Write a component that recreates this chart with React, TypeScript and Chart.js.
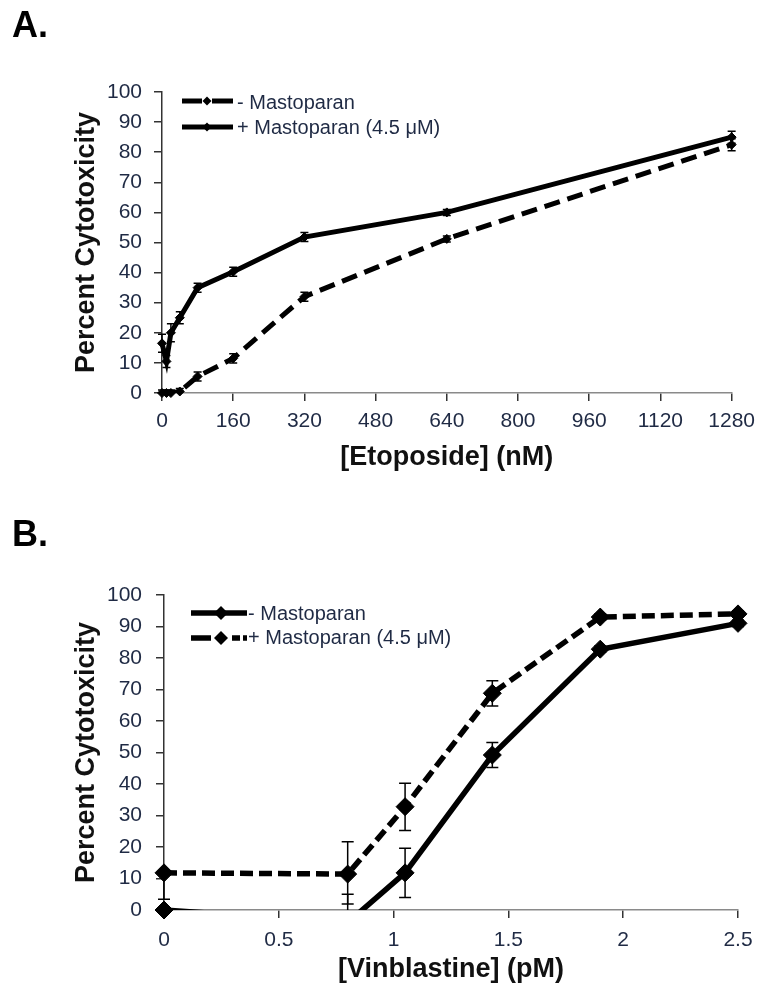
import React, { useEffect, useRef } from 'react';
import { Chart, registerables } from 'chart.js';

Chart.register(...registerables);

// ---------- data ----------
const seriesLabels = ['- Mastoparan', '+ Mastoparan (4.5 μM)'];
const yAxisTitle = 'Percent Cytotoxicity';
const cytotoxicityTicks = [0, 10, 20, 30, 40, 50, 60, 70, 80, 90, 100];

// Panel A: etoposide
const etoposideTitle = '[Etoposide] (nM)';
const etoposideTicks = [0, 160, 320, 480, 640, 800, 960, 1120, 1280];
const etoposideDoses = [0, 10, 20, 40, 80, 160, 320, 640, 1280];
const etoMinusMasto = [0, 0, 0, 0.5, 5.5, 11.5, 32, 51.2, 82.5];
const etoMinusMastoErr = [1, 1, 1, 1, 1.5, 1.5, 1.5, 1, 2];
const etoPlusMasto = [16.5, 10.5, 20, 25, 35, 40.3, 51.8, 60, 85];
const etoPlusMastoErr = [3, 2, 3, 2, 1.5, 1.5, 1.5, 1, 2];

// Panel B: vinblastine
const vinblastineTitle = '[Vinblastine] (pM)';
const vinblastineTicks = [0, 0.5, 1, 1.5, 2, 2.5];
const vinblastineDoses = [0, 0.8, 1.05, 1.43, 1.9, 2.5];
const vinMinusMasto = [0, -4, 11.8, 49.2, 82.8, 91];
const vinMinusMastoErrPlus = [0, 9, 7.8, 4, 1, 1];
const vinMinusMastoErrMinus = [0, 9, 7.8, 4, 1, 1];
const vinPlusMasto = [11.8, 11.4, 32.8, 68.8, 93, 94];
const vinPlusMastoErrPlus = [0, 10.3, 7.4, 4, 1, 1];
const vinPlusMastoErrMinus = [8.4, 9.5, 7.6, 4, 1, 1];

// ---------- styles ----------
const FONT = "'Liberation Sans', Arial, Helvetica, sans-serif";
const TICK_COLOR = '#1f2a44';
const TITLE_COLOR = '#111';

type SeriesDef = {
  xs: number[];
  ys: number[];
  plus: number[];
  minus: number[];
  dash: number[];
  lineWidth: number;
  radius: number;
};

function diamond(ctx: CanvasRenderingContext2D, x: number, y: number, r: number) {
  ctx.beginPath();
  ctx.moveTo(x - r, y);
  ctx.lineTo(x, y - r);
  ctx.lineTo(x + r, y);
  ctx.lineTo(x, y + r);
  ctx.closePath();
  ctx.fill();
}

function makeErrorBarPlugin(series: SeriesDef[], cap: number) {
  return {
    id: 'errorBars',
    afterDatasetsDraw(chart: any) {
      const { ctx, chartArea, scales } = chart;
      const x = scales.x;
      const y = scales.y;
      ctx.save();
      ctx.beginPath();
      ctx.rect(chartArea.left - 20, chartArea.top - 20, chartArea.right - chartArea.left + 40, chartArea.bottom - chartArea.top + 20);
      ctx.clip();
      ctx.strokeStyle = '#000';
      ctx.lineWidth = 1.5;
      for (const s of series) {
        s.xs.forEach((xv, i) => {
          const px = x.getPixelForValue(xv);
          const pt = y.getPixelForValue(s.ys[i] + s.plus[i]);
          const pb = y.getPixelForValue(s.ys[i] - s.minus[i]);
          if (!(s.plus[i] > 0 || s.minus[i] > 0)) return;
          ctx.beginPath();
          ctx.moveTo(px, pt);
          ctx.lineTo(px, pb);
          if (s.plus[i] > 0) {
            ctx.moveTo(px - cap, pt);
            ctx.lineTo(px + cap, pt);
          }
          if (s.minus[i] > 0) {
            ctx.moveTo(px - cap, pb);
            ctx.lineTo(px + cap, pb);
          }
          ctx.stroke();
        });
      }
      ctx.restore();
    },
  };
}

type LegendItem = { label: string; dash: number[]; y: number; textY: number };
type LegendGeom = { x0: number; x1: number; markerX: number; textX: number; lw: number; r: number; size: number };

function makeLegendPlugin(items: LegendItem[], g: LegendGeom) {
  return {
    id: 'customLegend',
    afterDraw(chart: any) {
      const ctx: CanvasRenderingContext2D = chart.ctx;
      ctx.save();
      for (const it of items) {
        ctx.strokeStyle = '#000';
        ctx.lineWidth = g.lw;
        ctx.lineCap = 'butt';
        ctx.setLineDash(it.dash);
        ctx.beginPath();
        ctx.moveTo(g.x0, it.y);
        ctx.lineTo(g.x1, it.y);
        ctx.stroke();
        ctx.setLineDash([]);
        ctx.fillStyle = '#000';
        diamond(ctx, g.markerX, it.y, g.r);
        ctx.fillStyle = TICK_COLOR;
        ctx.font = `${g.size}px ${FONT}`;
        ctx.textAlign = 'left';
        ctx.textBaseline = 'middle';
        ctx.fillText(it.label, g.textX, it.textY);
      }
      ctx.restore();
    },
  };
}

function seriesDatasets(s: SeriesDef) {
  const data = s.xs.map((x, i) => ({ x, y: s.ys[i] }));
  const line = {
    data,
    borderColor: '#000',
    borderWidth: s.lineWidth,
    borderDash: s.dash,
    borderCapStyle: 'butt',
    pointRadius: 0,
    pointHoverRadius: 0,
    fill: false,
    tension: 0,
    clip: { left: 30, top: 30, right: 30, bottom: 0 },
  };
  const points = {
    data,
    showLine: false,
    pointStyle: 'rectRot',
    pointRadius: (c: any) => (c.raw && c.raw.y < 0 ? 0 : s.radius),
    pointHoverRadius: (c: any) => (c.raw && c.raw.y < 0 ? 0 : s.radius),
    pointBackgroundColor: '#000',
    pointBorderColor: '#000',
    pointBorderWidth: 1,
    clip: false,
  };
  return { line, points };
}

type PanelDef = {
  series: SeriesDef[];
  xTicks: number[];
  xMin: number;
  xMax: number;
  xTitle: string;
  padding: { left: number; right: number; top: number; bottom: number };
  yAxisWidth: number;
  xAxisHeight: number;
  xTickPad: number;
  yTickPad: number;
  cap: number;
  legendItems: LegendItem[];
  legendGeom: LegendGeom;
};

function panelConfig(p: PanelDef): any {
  const ds = p.series.map(seriesDatasets);
  const datasets = [...ds.map((d) => d.points), ...ds.map((d) => d.line)];
  const gridCommon = {
    display: true,
    drawOnChartArea: false,
    drawTicks: true,
    tickLength: 8,
    lineWidth: 1.5,
    tickWidth: 1.5,
    tickColor: '#333',
    color: '#333',
  };
  return {
    type: 'line',
    data: { datasets },
    options: {
      responsive: false,
      maintainAspectRatio: false,
      animation: false,
      devicePixelRatio: 1,
      events: [],
      layout: { padding: p.padding },
      plugins: { legend: { display: false }, tooltip: { enabled: false } },
      scales: {
        x: {
          type: 'linear',
          min: p.xMin,
          max: p.xMax,
          afterFit: (s: any) => {
            s.height = p.xAxisHeight;
          },
          afterBuildTicks: (s: any) => {
            s.ticks = p.xTicks.map((v) => ({ value: v }));
          },
          ticks: {
            autoSkip: false,
            maxRotation: 0,
            minRotation: 0,
            padding: p.xTickPad,
            color: TICK_COLOR,
            font: { family: FONT, size: 21 },
            callback: (v: any) => String(v),
          },
          grid: gridCommon,
          border: { display: true, color: '#8a8a8a', width: 1.5 },
          title: {
            display: true,
            text: p.xTitle,
            color: TITLE_COLOR,
            font: { family: FONT, size: 27, weight: 'bold' },
            padding: { top: 0, bottom: 0 },
          },
        },
        y: {
          type: 'linear',
          min: 0,
          max: 100,
          afterFit: (s: any) => {
            s.width = p.yAxisWidth;
          },
          afterBuildTicks: (s: any) => {
            s.ticks = cytotoxicityTicks.map((v) => ({ value: v }));
          },
          ticks: {
            autoSkip: false,
            padding: p.yTickPad,
            color: TICK_COLOR,
            font: { family: FONT, size: 21 },
            callback: (v: any) => String(v),
          },
          grid: gridCommon,
          border: { display: true, color: '#333', width: 1.5 },
          title: {
            display: true,
            text: yAxisTitle,
            color: TITLE_COLOR,
            font: { family: FONT, size: 27, weight: 'bold' },
            padding: { top: 70, bottom: 0 },
          },
        },
      },
    },
    plugins: [makeErrorBarPlugin(p.series, p.cap), makeLegendPlugin(p.legendItems, p.legendGeom)],
  };
}

const panelA: PanelDef = {
  series: [
    { xs: etoposideDoses, ys: etoMinusMasto, plus: etoMinusMastoErr, minus: etoMinusMastoErr, dash: [16, 8], lineWidth: 5, radius: 4.5 },
    { xs: etoposideDoses, ys: etoPlusMasto, plus: etoPlusMastoErr, minus: etoPlusMastoErr, dash: [], lineWidth: 5, radius: 4.5 },
  ],
  xTicks: etoposideTicks,
  xMin: 0,
  xMax: 1280,
  xTitle: etoposideTitle,
  padding: { left: 0, right: 31, top: 92, bottom: 6 },
  yAxisWidth: 162,
  xAxisHeight: 81,
  xTickPad: 8,
  yTickPad: 12,
  cap: 4,
  legendItems: [
    { label: seriesLabels[0], dash: [20, 10, 21, 60], y: 101, textY: 103 },
    { label: seriesLabels[1], dash: [], y: 127, textY: 128 },
  ],
  legendGeom: { x0: 182, x1: 233, markerX: 207, textX: 237, lw: 5, r: 4.5, size: 20 },
};

const panelB: PanelDef = {
  series: [
    { xs: vinblastineDoses, ys: vinMinusMasto, plus: vinMinusMastoErrPlus, minus: vinMinusMastoErrMinus, dash: [], lineWidth: 5.5, radius: 9 },
    { xs: vinblastineDoses, ys: vinPlusMasto, plus: vinPlusMastoErrPlus, minus: vinPlusMastoErrMinus, dash: [13, 6], lineWidth: 5.5, radius: 9 },
  ],
  xTicks: vinblastineTicks,
  xMin: 0,
  xMax: 2.5,
  xTitle: vinblastineTitle,
  padding: { left: 0, right: 25, top: 115, bottom: 0 },
  yAxisWidth: 164,
  xAxisHeight: 76,
  xTickPad: 10,
  yTickPad: 14,
  cap: 6,
  legendItems: [
    { label: seriesLabels[0], dash: [], y: 133, textY: 134 },
    { label: seriesLabels[1], dash: [20, 21, 8, 3, 4, 60], y: 158, textY: 158 },
  ],
  legendGeom: { x0: 191, x1: 247, markerX: 221, textX: 248, lw: 5.5, r: 7, size: 20 },
};

function PanelChart({ panel, top, height }: { panel: PanelDef; top: number; height: number }) {
  const ref = useRef<HTMLCanvasElement>(null);
  useEffect(() => {
    const chart = new Chart(ref.current as HTMLCanvasElement, panelConfig(panel));
    return () => chart.destroy();
  }, [panel]);
  return (
    <canvas
      ref={ref}
      width={763}
      height={height}
      style={{ position: 'absolute', left: -8, top, width: 763, height, display: 'block' }}
    />
  );
}

const letterStyle: React.CSSProperties = {
  position: 'absolute',
  fontFamily: FONT,
  fontWeight: 'bold',
  fontSize: 36,
  lineHeight: '36px',
  color: '#000',
  whiteSpace: 'nowrap',
};

export default function App() {
  return (
    <div style={{ position: 'relative', width: 747, height: 978 }}>
      <PanelChart panel={panelA} top={-8} height={480} />
      <PanelChart panel={panelB} top={472} height={506} />
      <div style={{ ...letterStyle, left: 4, top: -1 }}>A.</div>
      <div style={{ ...letterStyle, left: 4, top: 508 }}>B.</div>
    </div>
  );
}
